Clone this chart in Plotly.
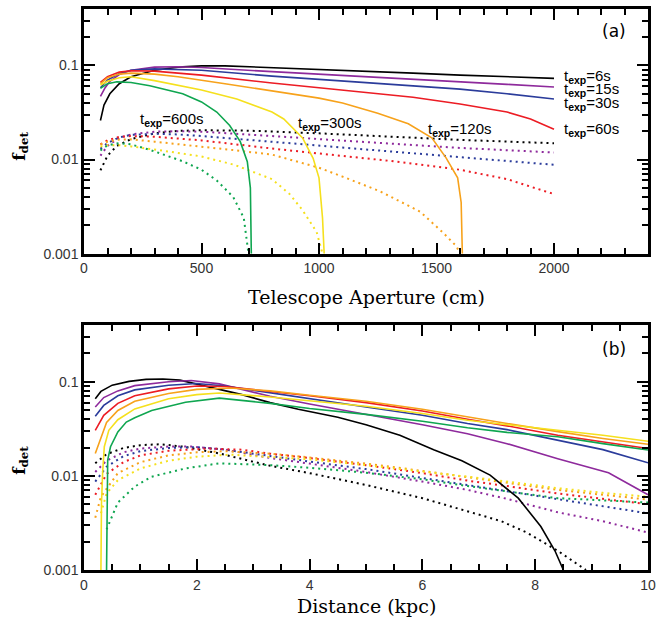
import math
import plotly.graph_objects as go

# ---------------- Panel (a): f_det vs telescope aperture (cm) ----------------
labels_texp = ["6s", "15s", "30s", "60s", "120s", "300s", "600s"]
colors = ["#000000", "#8e2a9c", "#2b3c9b", "#ec1c24", "#f7a21b", "#f5e01e", "#0fa650"]

# solid curves
a_x_6s = [70, 85, 110, 150, 200, 300, 400, 500, 600, 800, 1000, 1200, 1400, 1600, 1800, 2000]
a_y_6s = [0.026, 0.038, 0.05, 0.064, 0.076, 0.089, 0.096, 0.099, 0.099, 0.095, 0.091, 0.087, 0.083, 0.079, 0.076, 0.073]
a_x_15s = [70, 90, 110, 150, 200, 300, 400, 500, 800, 1000, 1200, 1400, 1600, 1800, 2000]
a_y_15s = [0.047, 0.058, 0.068, 0.08, 0.089, 0.096, 0.097, 0.095, 0.086, 0.081, 0.076, 0.071, 0.067, 0.063, 0.059]
a_x_30s = [70, 100, 150, 200, 300, 400, 500, 800, 1000, 1200, 1400, 1600, 1800, 2000]
a_y_30s = [0.058, 0.07, 0.082, 0.089, 0.092, 0.091, 0.089, 0.077, 0.071, 0.065, 0.06, 0.056, 0.05, 0.044]
a_x_60s = [70, 100, 150, 200, 300, 500, 800, 1000, 1200, 1400, 1600, 1800, 1900, 2000]
a_y_60s = [0.066, 0.076, 0.085, 0.088, 0.087, 0.079, 0.065, 0.058, 0.052, 0.046, 0.039, 0.032, 0.027, 0.021]
a_x_120s = [70, 100, 150, 200, 300, 400, 600, 800, 1000, 1100, 1250, 1380, 1480, 1540, 1570, 1590, 1605, 1610]
a_y_120s = [0.064, 0.074, 0.081, 0.083, 0.081, 0.076, 0.064, 0.054, 0.045, 0.04, 0.031, 0.024, 0.017, 0.0105, 0.0078, 0.0064, 0.0035, 0.001]
a_x_300s = [70, 100, 150, 200, 300, 400, 500, 650, 800, 850, 930, 975, 1000, 1015, 1022]
a_y_300s = [0.062, 0.068, 0.074, 0.076, 0.069, 0.062, 0.055, 0.044, 0.032, 0.027, 0.017, 0.0103, 0.0064, 0.0024, 0.001]
a_x_600s = [70, 100, 140, 200, 280, 420, 500, 565, 620, 665, 695, 708, 712]
a_y_600s = [0.057, 0.064, 0.067, 0.066, 0.061, 0.05, 0.041, 0.032, 0.023, 0.0155, 0.0095, 0.005, 0.001]

# dotted curves
ad_x_6s = [70, 100, 140, 200, 300, 400, 500, 700, 1000, 1300, 1600, 2000]
ad_y_6s = [0.0077, 0.011, 0.014, 0.0165, 0.019, 0.0202, 0.0205, 0.0203, 0.019, 0.0175, 0.0162, 0.0149]
ad_x_15s = [70, 100, 150, 200, 300, 400, 500, 800, 1000, 1300, 1600, 2000]
ad_y_15s = [0.011, 0.014, 0.017, 0.0185, 0.0198, 0.02, 0.0198, 0.0178, 0.0165, 0.0148, 0.0133, 0.0119]
ad_x_30s = [70, 100, 150, 200, 300, 400, 500, 800, 1000, 1300, 1600, 2000]
ad_y_30s = [0.013, 0.015, 0.0172, 0.0183, 0.0188, 0.0185, 0.0178, 0.0155, 0.0142, 0.0122, 0.0107, 0.0088]
ad_x_60s = [70, 100, 150, 200, 300, 400, 500, 800, 1000, 1300, 1600, 1800, 2000]
ad_y_60s = [0.0145, 0.016, 0.0175, 0.0178, 0.0175, 0.0168, 0.016, 0.0131, 0.0116, 0.0097, 0.0078, 0.0062, 0.0043]
ad_x_120s = [70, 100, 150, 200, 300, 400, 500, 650, 800, 1000, 1100, 1260, 1430, 1525, 1585, 1600]
ad_y_120s = [0.0145, 0.0155, 0.0163, 0.0164, 0.0155, 0.0146, 0.0138, 0.0125, 0.0113, 0.0082, 0.0066, 0.0046, 0.0028, 0.0017, 0.0012, 0.001]
ad_x_300s = [70, 100, 150, 200, 300, 400, 500, 640, 800, 875, 930, 990, 1015]
ad_y_300s = [0.0138, 0.0142, 0.0142, 0.0138, 0.0128, 0.0118, 0.0108, 0.0088, 0.0062, 0.0043, 0.0029, 0.0017, 0.001]
ad_x_600s = [70, 100, 150, 200, 280, 420, 500, 565, 635, 680, 700]
ad_y_600s = [0.0125, 0.0142, 0.015, 0.0145, 0.0127, 0.0096, 0.0078, 0.006, 0.004, 0.0024, 0.001]

# ---------------- Panel (b): f_det vs distance (kpc) ----------------
b_x_6s = [0.2, 0.3, 0.5, 0.8, 1.1, 1.4, 1.7, 2.0, 2.4, 2.8, 3.3, 3.8, 4.5, 5.0, 5.6, 6.2, 6.7, 7.2, 7.7, 8.1, 8.35, 8.5]
b_y_6s = [0.066, 0.079, 0.092, 0.101, 0.106, 0.107, 0.104, 0.095, 0.083, 0.073, 0.06, 0.051, 0.042, 0.035, 0.027, 0.019, 0.0145, 0.0102, 0.0058, 0.0029, 0.0016, 0.001]
b_x_15s = [0.2, 0.35, 0.6, 0.9, 1.5, 1.9, 2.4, 3.3, 4.0, 5.0, 6.0, 6.8, 7.5, 8.4, 9.3, 10]
b_y_15s = [0.054, 0.068, 0.08, 0.091, 0.1, 0.103, 0.095, 0.07, 0.058, 0.045, 0.035, 0.028, 0.022, 0.0152, 0.0108, 0.0063]
b_x_30s = [0.2, 0.35, 0.6, 0.9, 1.5, 2.0, 2.5, 3.3, 4.0, 5.0, 6.0, 6.8, 7.5, 8.4, 9.2, 10]
b_y_30s = [0.043, 0.056, 0.071, 0.082, 0.092, 0.096, 0.09, 0.076, 0.066, 0.054, 0.044, 0.036, 0.031, 0.024, 0.019, 0.0138]
b_x_60s = [0.2, 0.35, 0.6, 0.9, 1.5, 2.0, 2.5, 3.3, 4.0, 5.0, 6.0, 6.8, 7.5, 8.4, 9.2, 10]
b_y_60s = [0.0305, 0.044, 0.059, 0.071, 0.084, 0.09, 0.089, 0.079, 0.071, 0.06, 0.049, 0.04, 0.034, 0.027, 0.023, 0.0195]
b_x_120s = [0.2, 0.3, 0.4, 0.6, 0.9, 1.5, 2.0, 2.6, 3.3, 4.0, 5.0, 6.0, 6.8, 7.5, 8.4, 9.2, 10]
b_y_120s = [0.0173, 0.026, 0.037, 0.0495, 0.062, 0.075, 0.083, 0.086, 0.08, 0.072, 0.062, 0.051, 0.042, 0.036, 0.0295, 0.025, 0.0217]
b_x_300s = [0.3, 0.31, 0.33, 0.36, 0.44, 0.6, 0.9, 1.5, 2.0, 2.4, 3.3, 4.0, 5.0, 6.0, 6.8, 7.5, 8.4, 9.2, 10]
b_y_300s = [0.001, 0.005, 0.0107, 0.0204, 0.0305, 0.0395, 0.0515, 0.066, 0.073, 0.076, 0.069, 0.063, 0.055, 0.046, 0.039, 0.035, 0.0305, 0.027, 0.0233]
b_x_600s = [0.4, 0.405, 0.42, 0.47, 0.6, 0.75, 0.9, 1.2, 1.8, 2.4, 3.3, 4.0, 5.0, 6.0, 6.8, 7.5, 8.4, 9.2, 10]
b_y_600s = [0.001, 0.005, 0.0147, 0.0204, 0.0293, 0.0373, 0.0415, 0.0495, 0.0605, 0.067, 0.059, 0.052, 0.045, 0.038, 0.0325, 0.029, 0.026, 0.022, 0.0188]

bd_x_6s = [0.2, 0.4, 0.7, 1.0, 1.36, 1.8, 2.4, 3.3, 4.0, 5.0, 6.0, 6.8, 7.4, 7.85, 8.4, 8.9]
bd_y_6s = [0.0136, 0.017, 0.0198, 0.0212, 0.0217, 0.0203, 0.0173, 0.0128, 0.0107, 0.008, 0.0058, 0.0042, 0.0033, 0.0025, 0.0016, 0.001]
bd_x_15s = [0.2, 0.4, 0.7, 1.0, 1.5, 1.9, 2.5, 3.3, 4.0, 5.0, 6.0, 6.8, 7.5, 8.4, 9.2, 10]
bd_y_15s = [0.011, 0.0145, 0.0178, 0.0195, 0.0205, 0.0205, 0.019, 0.0155, 0.0135, 0.011, 0.0087, 0.0071, 0.0057, 0.0041, 0.0033, 0.0025]
bd_x_30s = [0.2, 0.4, 0.7, 1.0, 1.5, 2.0, 2.5, 3.3, 4.0, 5.0, 6.0, 6.8, 7.5, 8.4, 9.2, 10]
bd_y_30s = [0.0087, 0.0125, 0.0162, 0.0183, 0.0198, 0.0202, 0.019, 0.0162, 0.0142, 0.0118, 0.0095, 0.0079, 0.0068, 0.0056, 0.0047, 0.004]
bd_x_60s = [0.2, 0.4, 0.7, 1.0, 1.5, 2.2, 2.8, 3.3, 4.0, 5.0, 6.0, 6.8, 7.5, 8.4, 9.2, 10]
bd_y_60s = [0.0063, 0.0105, 0.014, 0.0165, 0.0185, 0.0195, 0.019, 0.0172, 0.0155, 0.013, 0.0107, 0.0089, 0.0078, 0.0065, 0.0057, 0.005]
bd_x_120s = [0.2, 0.3, 0.6, 1.0, 1.5, 2.0, 2.5, 3.3, 4.0, 5.0, 6.0, 6.8, 7.5, 8.4, 9.2, 10]
bd_y_120s = [0.0036, 0.006, 0.0107, 0.014, 0.0165, 0.0178, 0.0183, 0.0172, 0.0157, 0.0135, 0.0113, 0.0097, 0.0085, 0.0071, 0.0063, 0.0056]
bd_x_300s = [0.3, 0.4, 0.6, 1.0, 1.5, 2.0, 2.6, 3.3, 4.0, 5.0, 6.0, 6.8, 7.5, 8.4, 9.2, 10]
bd_y_300s = [0.004, 0.0065, 0.009, 0.012, 0.0145, 0.016, 0.0168, 0.016, 0.015, 0.013, 0.0112, 0.0098, 0.0087, 0.0074, 0.0066, 0.006]
bd_x_600s = [0.4, 0.6, 0.9, 1.2, 1.8, 2.4, 3.3, 4.0, 5.0, 6.0, 6.8, 7.5, 8.4, 9.2, 10]
bd_y_600s = [0.0027, 0.0052, 0.0077, 0.0098, 0.012, 0.0136, 0.013, 0.0122, 0.0108, 0.0092, 0.0078, 0.0069, 0.0058, 0.0055, 0.0052]

a_solid = [(a_x_6s, a_y_6s), (a_x_15s, a_y_15s), (a_x_30s, a_y_30s), (a_x_60s, a_y_60s),
           (a_x_120s, a_y_120s), (a_x_300s, a_y_300s), (a_x_600s, a_y_600s)]
a_dot = [(ad_x_6s, ad_y_6s), (ad_x_15s, ad_y_15s), (ad_x_30s, ad_y_30s), (ad_x_60s, ad_y_60s),
         (ad_x_120s, ad_y_120s), (ad_x_300s, ad_y_300s), (ad_x_600s, ad_y_600s)]
b_solid = [(b_x_6s, b_y_6s), (b_x_15s, b_y_15s), (b_x_30s, b_y_30s), (b_x_60s, b_y_60s),
           (b_x_120s, b_y_120s), (b_x_300s, b_y_300s), (b_x_600s, b_y_600s)]
b_dot = [(bd_x_6s, bd_y_6s), (bd_x_15s, bd_y_15s), (bd_x_30s, bd_y_30s), (bd_x_60s, bd_y_60s),
         (bd_x_120s, bd_y_120s), (bd_x_300s, bd_y_300s), (bd_x_600s, bd_y_600s)]

# curve labels in panel (a)
a_label_text = ["6s", "15s", "30s", "60s", "600s", "300s", "120s"]
a_label_x = [2034, 2034, 2034, 2034, 229, 903, 1456]
a_label_y = [0.0766, 0.0559, 0.0398, 0.0207, 0.0264, 0.0239, 0.0207]

fig = go.Figure()
for i in range(7):
    fig.add_trace(go.Scatter(x=a_dot[i][0], y=a_dot[i][1], mode="lines", xaxis="x", yaxis="y",
                             line=dict(color=colors[i], width=2, dash="2px,4px"), showlegend=False))
for i in range(7):
    fig.add_trace(go.Scatter(x=a_solid[i][0], y=a_solid[i][1], mode="lines", xaxis="x", yaxis="y",
                             line=dict(color=colors[i], width=1.6), showlegend=False))
for i in range(7):
    fig.add_trace(go.Scatter(x=b_dot[i][0], y=b_dot[i][1], mode="lines", xaxis="x2", yaxis="y2",
                             line=dict(color=colors[i], width=2, dash="2px,4px"), showlegend=False))
for i in range(7):
    fig.add_trace(go.Scatter(x=b_solid[i][0], y=b_solid[i][1], mode="lines", xaxis="x2", yaxis="y2",
                             line=dict(color=colors[i], width=1.6), showlegend=False))

# empty traces so that the minor-tick overlay axes get drawn
for xa, ya in (("x3", "y"), ("x", "y3"), ("x4", "y2"), ("x2", "y4")):
    fig.add_trace(go.Scatter(x=[None], y=[None], mode="lines", xaxis=xa, yaxis=ya,
                             showlegend=False, hoverinfo="skip"))

tickfont = dict(family="Liberation Sans, Arial, sans-serif", size=14, color="#333333")

# automatic tick placement (nticks) rather than explicit tick arrays
fig.update_layout(
    width=670, height=627, margin=dict(l=84, r=22, t=6, b=57),
    paper_bgcolor="white", plot_bgcolor="white",
    xaxis=dict(range=[0, 2400], anchor="y", nticks=6, tickfont=tickfont),
    yaxis=dict(type="log", range=[-3, -0.4], domain=[0.5638, 1.0], anchor="x", nticks=3, tickfont=tickfont),
    xaxis2=dict(range=[0, 10], anchor="y2", nticks=6, tickfont=tickfont),
    yaxis2=dict(type="log", range=[-3, -0.4], domain=[0.0, 0.4362], anchor="x2", nticks=3, tickfont=tickfont),
    # minor-tick overlay axes
    xaxis3=dict(range=[0, 2400], overlaying="x", anchor="y", nticks=25, showticklabels=False),
    yaxis3=dict(type="log", range=[-3, -0.4], overlaying="y", anchor="x", nticks=30, showticklabels=False),
    xaxis4=dict(range=[0, 10], overlaying="x2", anchor="y2", nticks=21, showticklabels=False),
    yaxis4=dict(type="log", range=[-3, -0.4], overlaying="y2", anchor="x2", nticks=30, showticklabels=False),
)
fig.update_xaxes(showline=True, linewidth=2.5, linecolor="black", mirror="ticks", ticks="inside",
                 ticklen=11, tickwidth=2, tickcolor="black", showgrid=False, zeroline=False)
fig.update_yaxes(showline=True, linewidth=2.5, linecolor="black", mirror="ticks", ticks="inside",
                 ticklen=11, tickwidth=2, tickcolor="black", showgrid=False, zeroline=False)
for name in ("xaxis3", "yaxis3", "xaxis4", "yaxis4"):
    fig.layout[name].ticklen = 6
    fig.layout[name].tickwidth = 1.6

ann = []
lab_font = dict(family="Liberation Sans, Arial, sans-serif", size=15, color="black")
for t, x, y in zip(a_label_text, a_label_x, a_label_y):
    ann.append(dict(x=x, y=math.log10(y), xref="x", yref="y", yanchor="middle", xanchor="left", showarrow=False,
                    text="t<sub><b>exp</b></sub>=" + t, font=lab_font))
title_font = dict(family="DejaVu Serif, serif", size=19, color="black")
ann.append(dict(x=0.5, y=0.4858, xref="paper", yref="paper", xanchor="center", yanchor="middle", showarrow=False,
                text="Telescope Aperture (cm)", font=title_font))
ann.append(dict(x=0.5, y=-0.0638, xref="paper", yref="paper", xanchor="center", yanchor="middle", showarrow=False,
                text="Distance (kpc)", font=title_font))
ylab_font = dict(family="DejaVu Serif, serif", size=17, color="black")
ann.append(dict(x=-0.113, y=0.755, xref="paper", yref="paper", xanchor="center", yanchor="middle", showarrow=False,
                textangle=-90, text="<b>f<sub>det</sub></b>", font=ylab_font))
ann.append(dict(x=-0.113, y=0.195, xref="paper", yref="paper", xanchor="center", yanchor="middle", showarrow=False,
                textangle=-90, text="<b>f<sub>det</sub></b>", font=ylab_font))
ann.append(dict(x=0.94, y=0.961, xref="paper", yref="paper", xanchor="center", yanchor="middle", showarrow=False,
                text="(a)", font=dict(family="DejaVu Sans, sans-serif", size=17, color="black")))
ann.append(dict(x=0.94, y=0.394, xref="paper", yref="paper", xanchor="center", yanchor="middle", showarrow=False,
                text="(b)", font=dict(family="DejaVu Sans, sans-serif", size=17, color="black")))
fig.update_layout(annotations=ann)

fig.write_html("out.html", config={"displayModeBar": False},
               post_script="document.body.style.margin='0px';")
